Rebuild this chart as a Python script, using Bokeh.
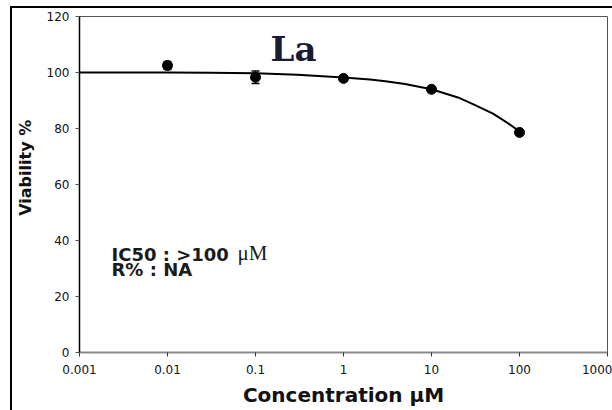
from bokeh.plotting import figure
from bokeh.models import (Range1d, FixedTicker, CustomJSTickFormatter, ColumnDataSource,
                          Whisker, TeeHead, Label, InlineStyleSheet)
from bokeh.embed import file_html
from bokeh.resources import INLINE

# ---- data ----
conc = [0.01, 0.1, 1, 10, 100]
viability = [102.5, 98.3, 97.9, 94.0, 78.6]
err = [1.4, 2.2, 0.8, 0.8, 0.5]

fit_x = [0.001, 0.01, 0.03, 0.1, 0.3, 1, 2, 3, 5, 10, 20, 30, 50, 70, 100]
fit_y = [100.0, 100.0, 99.9, 99.7, 99.2, 98.2, 97.5, 96.9, 95.9, 94.0, 91.1, 88.6, 85.3, 82.4, 79.0]

x_ticks = [0.001, 0.01, 0.1, 1, 10, 100, 1000]
y_ticks = [0, 20, 40, 60, 80, 100, 120]

title_text = "La"
ic50_text = "IC50 : >100 "
r_text = "R% : NA"
unit_text = "\u03bcM"
x_label = "Concentration \u03bcM"
y_label = "\u00a0" * 6 + "Viability %"

# ---- figure ----
p = figure(width=612, height=410, x_axis_type="log",
           x_range=Range1d(0.001, 1000), y_range=Range1d(0, 120),
           output_backend="svg", toolbar_location=None,
           min_border_left=79, min_border_right=5, min_border_top=16, min_border_bottom=58)
p.xgrid.visible = False
p.ygrid.visible = False
p.background_fill_color = "white"
p.border_fill_color = "white"
p.outline_line_color = "#555555"
p.outline_line_width = 1

# outer panel frame (top and left black rules of the figure panel)
p.stylesheets = [InlineStyleSheet(css="""
:host { position: relative; }
:host::after {
  content: ""; position: absolute; left: 10px; top: 6px; width: 620px; height: 420px;
  border-top: 2px solid black; border-left: 2px solid black;
  pointer-events: none; z-index: 100; box-sizing: border-box;
}
""")]

tick_font = "DejaVu Sans"
for ax in (p.xaxis, p.yaxis):
    ax.major_label_text_font = tick_font
    ax.major_label_text_font_size = "12px"
    ax.major_label_text_color = "#111111"
    ax.minor_tick_line_color = None
    ax.major_tick_in = 0
    ax.major_tick_out = 4
    ax.axis_label_text_font = "DejaVu Sans"
    ax.axis_label_text_font_style = "bold"
    ax.axis_label_text_color = "#111111"

p.xaxis.ticker = FixedTicker(ticks=x_ticks)
p.xaxis.formatter = CustomJSTickFormatter(code="return String(tick);")
p.xaxis.axis_line_color = "#8a8a8a"
p.xaxis.axis_line_width = 2
p.xaxis.major_tick_line_color = "#333333"
p.xaxis.major_label_standoff = 8
p.xaxis.axis_label = x_label
p.xaxis.axis_label_text_font_size = "20px"
p.xaxis.axis_label_standoff = 6

p.yaxis.ticker = FixedTicker(ticks=y_ticks)
p.yaxis.axis_line_color = "black"
p.yaxis.axis_line_width = 1.5
p.yaxis.major_tick_line_color = "#555555"
p.yaxis.major_label_standoff = 6
p.yaxis.axis_label = y_label
p.yaxis.axis_label_text_font_size = "16px"
p.yaxis.axis_label_standoff = 9

# fitted curve
p.line(fit_x, fit_y, line_color="black", line_width=2)

# error bars + points
src = ColumnDataSource(dict(x=conc, y=viability,
                            lo=[v - e for v, e in zip(viability, err)],
                            hi=[v + e for v, e in zip(viability, err)]))
p.add_layout(Whisker(source=src, base="x", lower="lo", upper="hi",
                     line_color="black", line_width=1.5,
                     upper_head=TeeHead(size=8, line_color="black", line_width=1.5),
                     lower_head=TeeHead(size=8, line_color="black", line_width=1.5)))
p.scatter("x", "y", source=src, size=10, color="black")


def lab(text, x, y, font, size, bold=False, color="#1a1a1a", **kw):
    # y is the wanted baseline (frame-relative); compensate the renderer's baseline shift
    return Label(x=x, y=y + 0.44 * size, x_units="screen", y_units="screen", text=text,
                 text_font=font, text_font_style="bold" if bold else "normal",
                 text_font_size=f"{size}px", text_color=color,
                 text_baseline="alphabetic", **kw)


p.add_layout(lab(title_text, 191, 289, "DejaVu Serif", 34, True, "#1a1a33"))
p.add_layout(lab(ic50_text, 32, 90, "DejaVu Sans", 18, True))
p.add_layout(lab(unit_text, 158, 90, "Liberation Serif", 21))
p.add_layout(lab(r_text, 32, 75, "DejaVu Sans", 18, True))

open("out.html", "w").write(file_html(p, INLINE))
